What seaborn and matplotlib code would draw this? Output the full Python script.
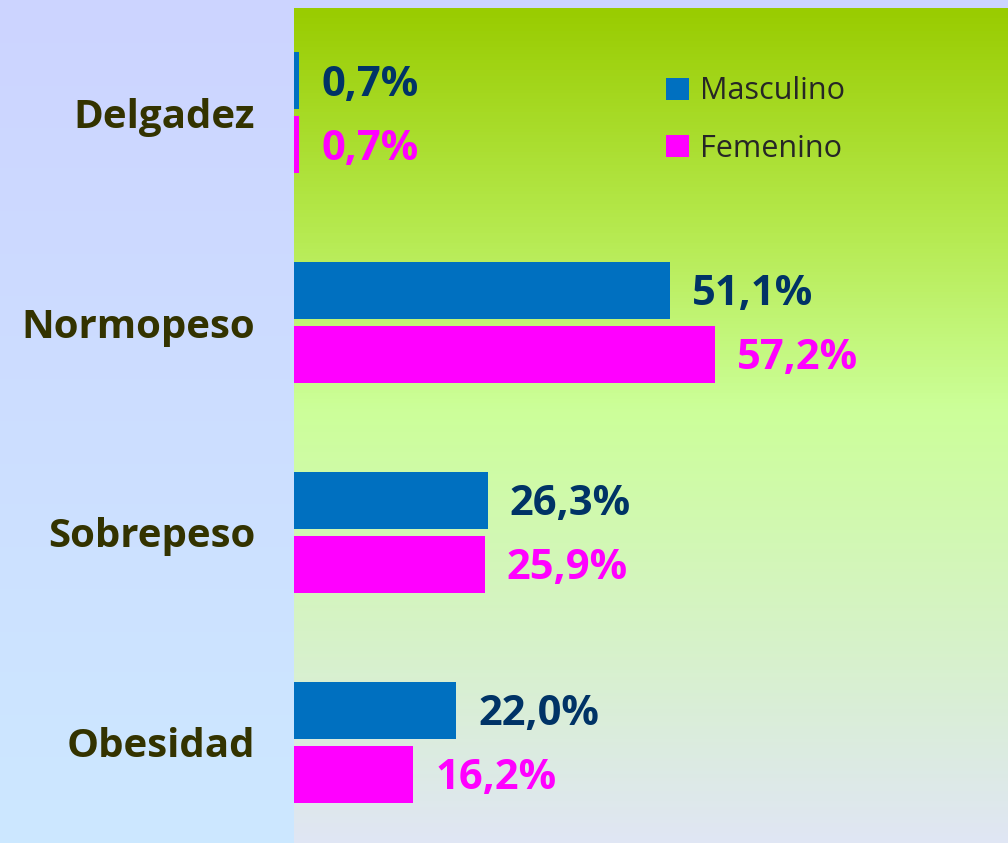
import numpy as np
import pandas as pd
import matplotlib
matplotlib.use("Agg")
import matplotlib.pyplot as plt
from matplotlib.colors import LinearSegmentedColormap
import seaborn as sns

categorias = ["Delgadez", "Normopeso", "Sobrepeso", "Obesidad"]
masculino = [0.7, 51.1, 26.3, 22.0]
femenino = [0.7, 57.2, 25.9, 16.2]
series = ["Masculino", "Femenino"]

sns.set_theme(style="white")
plt.rcParams['font.family'] = ['Open Sans', 'DejaVu Sans']

df = pd.DataFrame({
    "categoria": categorias * 2,
    "valor": masculino + femenino,
    "sexo": [series[0]] * 4 + [series[1]] * 4,
})

fig = plt.figure(figsize=(10.08, 8.43), dpi=100)

# background of the whole figure: lavender -> light blue
bg = fig.add_axes([0, 0, 1, 1], zorder=-10)
bg_cmap = LinearSegmentedColormap.from_list("bg", ["#CCD4FF", "#CCE8FF"])
bg.imshow(np.linspace(0, 1, 256).reshape(-1, 1), cmap=bg_cmap, aspect="auto",
          extent=[0, 1, 0, 1], origin="upper")
bg.set_axis_off()

ax = fig.add_axes([294 / 1008, 0, 1 - 294 / 1008, 1 - 8 / 843])

# plot area gradient: green at top, pale at bottom
plot_cmap = LinearSegmentedColormap.from_list(
    "plot", [(0, "#99CC00"), (0.25, "#B4E84A"), (0.48, "#CCFF99"),
             (0.8, "#D8F0D0"), (1, "#E0E6F4")])

pal = {"Masculino": "#0070C0", "Femenino": "#FF00FF"}
sns.barplot(data=df, y="categoria", x="valor", hue="sexo", palette=pal,
            orient="h", width=0.61, gap=0.11, linewidth=0, saturation=1,
            ax=ax, zorder=2)

ax.set_xlim(0, 97)
ax.set_ylim(3.48, -0.5)
ax.imshow(np.linspace(0, 1, 256).reshape(-1, 1), cmap=plot_cmap, aspect="auto",
          extent=[0, 97, 3.48, -0.5], zorder=0)
ax.set_xlim(0, 97)
ax.set_ylim(3.48, -0.5)

label_colors = ["#003366", "#FF00FF"]
for cont, vals, col in zip(ax.containers, [masculino, femenino], label_colors):
    txts = ax.bar_label(cont, labels=[f"{v:.1f}%".replace(".", ",") for v in vals],
                        padding=16, color=col, fontsize=30, fontweight="bold")
    for t in txts:
        t.xyann = (16, -3)  # labels sit a touch below bar centre

ax.set_xlabel("")
ax.set_ylabel("")
ax.set_xticks([])
ax.tick_params(axis="y", length=0, pad=28)
for t in ax.get_yticklabels():
    t.set_fontsize(29)
    t.set_fontweight("bold")
    t.set_color("#333300")
for s in ax.spines.values():
    s.set_visible(False)

handles, labels = ax.get_legend_handles_labels()
ax.legend(handles, labels, loc="upper left", bbox_to_anchor=(0.483, 0.951),
          frameon=False, fontsize=22, handlelength=0.75, handleheight=0.75,
          handletextpad=0.35, labelspacing=0.9)

fig.savefig("out.png", dpi=100)
